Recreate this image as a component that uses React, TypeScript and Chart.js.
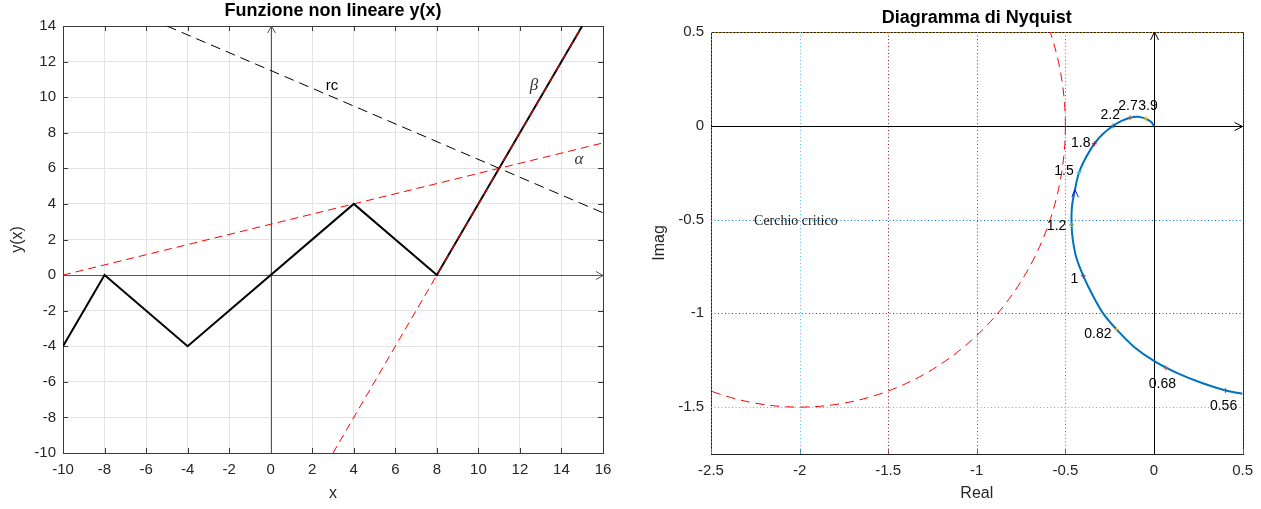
import React, { useEffect, useRef } from 'react';
import { Chart, registerables } from 'chart.js';

Chart.register(...registerables);

const FONT = "'Liberation Sans', Arial, Helvetica, sans-serif";
const SERIF = "'Liberation Serif', 'Times New Roman', serif";

// ---------- Left chart: "Funzione non lineare y(x)" ----------
const fxX = [-10, -8, -4, 4, 8, 15];
const fxY = [-4, 0, -4, 4, 0, 14];
const betaX = [3, 15];
const betaY = [-10, 14];
const alphaX = [-10, 16];
const alphaY = [0, 7.4286];
const rcX = [-5, 16];
const rcY = [14, 3.5];
const leftXTicks = [-10, -8, -6, -4, -2, 0, 2, 4, 6, 8, 10, 12, 14, 16];
const leftYTicks = [-10, -8, -6, -4, -2, 0, 2, 4, 6, 8, 10, 12, 14];
const leftNoteText = ['rc', 'β', 'α'];
const leftNoteX = [2.95, 12.68, 14.84];
const leftNoteY = [10.63, 10.63, 6.48];

// ---------- Right chart: "Diagramma di Nyquist" ----------
const nyqRe = [0.5, 0.404, 0.275, 0.135, 0.004, -0.112, -0.212, -0.287, -0.348, -0.399, -0.438, -0.458, -0.465, -0.463, -0.446, -0.423, -0.382, -0.337, -0.287, -0.23, -0.18, -0.135, -0.09, -0.045, -0.017, 0.0];
const nyqIm = [-1.429, -1.411, -1.373, -1.32, -1.256, -1.179, -1.085, -1.0, -0.9, -0.8, -0.704, -0.608, -0.528, -0.432, -0.341, -0.249, -0.165, -0.096, -0.043, 0.0, 0.027, 0.043, 0.048, 0.037, 0.021, 0.0];
const freqLabels = ['0.56', '0.68', '0.82', '1', '1.2', '1.5', '1.8', '2.2', '2.7', '3.9'];
const freqRe = [0.404, 0.067, -0.212, -0.399, -0.465, -0.423, -0.337, -0.23, -0.135, -0.045];
const freqIm = [-1.411, -1.291, -1.085, -0.8, -0.528, -0.249, -0.096, 0.0, 0.043, 0.037];
const critCenterRe = -2;
const critCenterIm = 0;
const critRadius = 1.5;
const arrowRe = -0.446;
const arrowIm = -0.341;
const critLabel = 'Cerchio critico';
const critLabelRe = -2.257;
const critLabelIm = -0.51;
const rightXTicks = [-2.5, -2, -1.5, -1, -0.5, 0, 0.5];
const rightYTicks = [-1.5, -1, -0.5, 0, 0.5];

// styles (kept separate from data)
const freqLabelOffsets: [number, number][] = [
  [-2, 16], [-3.5, 16], [-18.5, 5], [-9, 3], [-15, 1], [-15, -1], [-13.5, -1], [-3, -11], [-2, -12], [2, -13],
];
const matlabColors = ['#0072bd', '#d95319', '#edb120', '#7e2f8e', '#77ac30', '#4dbeee', '#a2142f'];
const vGridColors = ['#77ac30', '#4dbeee', '#a2142f', '#0072bd', '#d95319', '#edb120', '#7e2f8e'];
const hGridColors = ['#4dbeee', '#a2142f', '#0072bd', '#d95319', '#edb120'];

const crisp = (v: number) => Math.round(v) + 0.5;

const leftDecor = {
  id: 'leftDecor',
  beforeDatasetsDraw(chart: any) {
    const { ctx, chartArea: a, scales } = chart;
    const xs = scales.x, ys = scales.y;
    ctx.save();
    ctx.strokeStyle = '#3a3a3a';
    ctx.lineWidth = 1;
    ctx.strokeRect(crisp(a.left), crisp(a.top), Math.round(a.right - a.left), Math.round(a.bottom - a.top));
    ctx.beginPath();
    leftXTicks.forEach((v) => {
      const px = crisp(xs.getPixelForValue(v));
      ctx.moveTo(px, a.bottom); ctx.lineTo(px, a.bottom - 5);
      ctx.moveTo(px, a.top); ctx.lineTo(px, a.top + 5);
    });
    leftYTicks.forEach((v) => {
      const py = crisp(ys.getPixelForValue(v));
      ctx.moveTo(a.left, py); ctx.lineTo(a.left + 5, py);
      ctx.moveTo(a.right, py); ctx.lineTo(a.right - 5, py);
    });
    ctx.stroke();
    const y0 = crisp(ys.getPixelForValue(0));
    const x0 = crisp(xs.getPixelForValue(0));
    ctx.strokeStyle = '#555555';
    ctx.beginPath();
    ctx.moveTo(a.left, y0); ctx.lineTo(a.right, y0);
    ctx.moveTo(a.right - 7, y0 - 4); ctx.lineTo(a.right, y0); ctx.lineTo(a.right - 7, y0 + 4);
    ctx.moveTo(x0, a.bottom); ctx.lineTo(x0, a.top);
    ctx.moveTo(x0 - 4, a.top + 7); ctx.lineTo(x0, a.top); ctx.lineTo(x0 + 4, a.top + 7);
    ctx.stroke();
    ctx.restore();
  },
  afterDraw(chart: any) {
    const { ctx, chartArea: a, scales } = chart;
    ctx.save();
    ctx.fillStyle = '#000';
    ctx.textAlign = 'center';
    ctx.textBaseline = 'middle';
    ctx.font = `bold 18px ${FONT}`;
    ctx.fillText('Funzione non lineare y(x)', (a.left + a.right) / 2, 11);
    ctx.fillStyle = '#262626';
    ctx.font = `16px ${FONT}`;
    ctx.fillText('x', (a.left + a.right) / 2, 494);
    ctx.save();
    ctx.translate(18, (a.top + a.bottom) / 2);
    ctx.rotate(-Math.PI / 2);
    ctx.fillText('y(x)', 0, 0);
    ctx.restore();
    leftNoteText.forEach((t, i) => {
      const px = scales.x.getPixelForValue(leftNoteX[i]);
      const py = scales.y.getPixelForValue(leftNoteY[i]);
      if (i === 0) {
        ctx.fillStyle = '#000';
        ctx.font = `15px ${FONT}`;
      } else {
        ctx.fillStyle = '#333';
        ctx.font = `italic 17px ${SERIF}`;
      }
      ctx.fillText(t, px, py);
    });
    ctx.restore();
  },
};

const rightDecor = {
  id: 'rightDecor',
  beforeDatasetsDraw(chart: any) {
    const { ctx, chartArea: a, scales } = chart;
    const xs = scales.x, ys = scales.y;
    ctx.save();
    ctx.strokeStyle = '#222';
    ctx.lineWidth = 1;
    ctx.strokeRect(crisp(a.left), crisp(a.top), Math.round(a.right - a.left), Math.round(a.bottom - a.top));
    ctx.beginPath();
    ctx.strokeStyle = '#5a6a80';
    rightXTicks.forEach((v) => {
      const px = crisp(xs.getPixelForValue(v));
      ctx.moveTo(px, a.bottom); ctx.lineTo(px, a.bottom - 5);
    });
    ctx.stroke();
    ctx.setLineDash([1, 2.5]);
    rightXTicks.forEach((v, i) => {
      const px = crisp(xs.getPixelForValue(v));
      ctx.strokeStyle = vGridColors[i];
      ctx.beginPath();
      ctx.moveTo(px, a.top); ctx.lineTo(px, a.bottom);
      ctx.stroke();
    });
    rightYTicks.forEach((v, i) => {
      const py = crisp(ys.getPixelForValue(v));
      ctx.strokeStyle = hGridColors[i];
      ctx.beginPath();
      ctx.moveTo(a.left, py); ctx.lineTo(a.right, py);
      ctx.stroke();
    });
    ctx.save();
    ctx.beginPath();
    ctx.rect(a.left, a.top, a.right - a.left, a.bottom - a.top);
    ctx.clip();
    const cx = xs.getPixelForValue(critCenterRe);
    const cy = ys.getPixelForValue(critCenterIm);
    const rx = Math.abs(xs.getPixelForValue(critCenterRe + critRadius) - cx);
    const ry = Math.abs(ys.getPixelForValue(critCenterIm + critRadius) - cy);
    ctx.setLineDash([9, 6]);
    ctx.strokeStyle = '#ff0000';
    ctx.lineWidth = 1;
    ctx.beginPath();
    ctx.ellipse(cx, cy, rx, ry, 0, 0, Math.PI * 2);
    ctx.stroke();
    ctx.restore();
    ctx.setLineDash([]);
    const y0 = crisp(ys.getPixelForValue(0));
    const x0 = crisp(xs.getPixelForValue(0));
    ctx.strokeStyle = '#000';
    ctx.beginPath();
    ctx.moveTo(a.left, y0); ctx.lineTo(a.right, y0);
    ctx.moveTo(a.right - 8, y0 - 4); ctx.lineTo(a.right, y0); ctx.lineTo(a.right - 8, y0 + 4);
    ctx.moveTo(x0, a.bottom); ctx.lineTo(x0, a.top);
    ctx.moveTo(x0 - 4, a.top + 8); ctx.lineTo(x0, a.top); ctx.lineTo(x0 + 4, a.top + 8);
    ctx.stroke();
    ctx.restore();
  },
  afterDraw(chart: any) {
    const { ctx, chartArea: a, scales } = chart;
    const xs = scales.x, ys = scales.y;
    ctx.save();
    const ax = xs.getPixelForValue(arrowRe);
    const ay = ys.getPixelForValue(arrowIm);
    ctx.strokeStyle = '#1010ff';
    ctx.lineWidth = 1;
    ctx.beginPath();
    ctx.moveTo(ax - 3, ay + 7);
    ctx.lineTo(ax, ay);
    ctx.lineTo(ax + 3.5, ay + 7.5);
    ctx.stroke();
    ctx.fillStyle = '#000';
    ctx.font = `14px ${FONT}`;
    ctx.textAlign = 'center';
    ctx.textBaseline = 'middle';
    freqLabels.forEach((t, i) => {
      const px = xs.getPixelForValue(freqRe[i]) + freqLabelOffsets[i][0];
      const py = ys.getPixelForValue(freqIm[i]) + freqLabelOffsets[i][1];
      ctx.fillText(t, px, py);
    });
    ctx.textAlign = 'left';
    ctx.fillStyle = '#222';
    ctx.font = `14px ${SERIF}`;
    ctx.fillText(critLabel, xs.getPixelForValue(critLabelRe), ys.getPixelForValue(critLabelIm));
    ctx.textAlign = 'center';
    ctx.fillStyle = '#000';
    ctx.font = `bold 18px ${FONT}`;
    ctx.fillText('Diagramma di Nyquist', (a.left + a.right) / 2, 18);
    ctx.fillStyle = '#262626';
    ctx.font = `16px ${FONT}`;
    ctx.fillText('Real', (a.left + a.right) / 2, 494);
    ctx.save();
    ctx.translate(30, (a.top + a.bottom) / 2);
    ctx.rotate(-Math.PI / 2);
    ctx.fillText('Imag', 0, 0);
    ctx.restore();
    ctx.restore();
  },
};

function tickOpts(pad: number) {
  return {
    color: '#262626',
    font: { family: FONT, size: 15 },
    padding: pad,
    maxRotation: 0,
    autoSkip: false,
    callback: (v: any) => String(v),
  };
}

function leftConfig(): any {
  const pts = (xs: number[], ys: number[]) => xs.map((x, i) => ({ x, y: ys[i] }));
  return {
    type: 'scatter',
    data: {
      datasets: [
        { data: pts(rcX, rcY), showLine: true, borderColor: '#000', borderWidth: 1, borderDash: [10, 6], pointRadius: 0, order: 3 },
        { data: pts(alphaX, alphaY), showLine: true, borderColor: '#ff0000', borderWidth: 1, borderDash: [8, 5], pointRadius: 0, order: 2 },
        { data: pts(fxX, fxY), showLine: true, borderColor: '#000', borderWidth: 2, pointRadius: 0, order: 1 },
        { data: pts(betaX, betaY), showLine: true, borderColor: '#ff0000', borderWidth: 1, borderDash: [8, 5], pointRadius: 0, order: 0 },
      ],
    },
    options: {
      responsive: false,
      animation: false,
      devicePixelRatio: 1,
      layout: { padding: { top: 26, right: 27, left: 0, bottom: 0 } },
      plugins: { legend: { display: false }, tooltip: { enabled: false }, title: { display: false } },
      scales: {
        x: {
          type: 'linear', min: -10, max: 16,
          afterBuildTicks: (s: any) => { s.ticks = leftXTicks.map((v) => ({ value: v })); },
          afterFit: (s: any) => { s.height = 56; },
          ticks: tickOpts(8),
          grid: { color: '#e3e3e3', drawTicks: false },
          border: { display: false },
        },
        y: {
          type: 'linear', min: -10, max: 14,
          afterBuildTicks: (s: any) => { s.ticks = leftYTicks.map((v) => ({ value: v })); },
          afterFit: (s: any) => { s.width = 63; },
          ticks: tickOpts(7),
          grid: { color: '#e3e3e3', drawTicks: false },
          border: { display: false },
        },
      },
    },
    plugins: [leftDecor],
  };
}

function rightConfig(): any {
  return {
    type: 'scatter',
    data: {
      datasets: [
        {
          data: freqRe.map((x, i) => ({ x, y: freqIm[i] })),
          pointStyle: 'cross', pointRadius: 2.5, borderWidth: 1,
          borderColor: freqRe.map((_, i) => matlabColors[i % matlabColors.length]),
          backgroundColor: 'transparent', order: 0,
        },
        {
          data: nyqRe.map((x, i) => ({ x, y: nyqIm[i] })),
          showLine: true, borderColor: '#0072bd', borderWidth: 2, pointRadius: 0, tension: 0.35, order: 1,
        },
      ],
    },
    options: {
      responsive: false,
      animation: false,
      devicePixelRatio: 1,
      layout: { padding: { top: 32, right: 16, left: 0, bottom: 0 } },
      plugins: { legend: { display: false }, tooltip: { enabled: false }, title: { display: false } },
      scales: {
        x: {
          type: 'linear', min: -2.5, max: 0.5,
          afterBuildTicks: (s: any) => { s.ticks = rightXTicks.map((v) => ({ value: v })); },
          afterFit: (s: any) => { s.height = 55; },
          ticks: tickOpts(8),
          grid: { display: false, drawTicks: false },
          border: { display: false },
        },
        y: {
          type: 'linear', min: -1.75, max: 0.5,
          afterBuildTicks: (s: any) => { s.ticks = rightYTicks.map((v) => ({ value: v })); },
          afterFit: (s: any) => { s.width = 81; },
          ticks: tickOpts(7),
          grid: { display: false, drawTicks: false },
          border: { display: false },
        },
      },
    },
    plugins: [rightDecor],
  };
}

export default function App() {
  const leftRef = useRef<HTMLCanvasElement>(null);
  const rightRef = useRef<HTMLCanvasElement>(null);
  useEffect(() => {
    const c1 = new Chart(leftRef.current as HTMLCanvasElement, leftConfig());
    const c2 = new Chart(rightRef.current as HTMLCanvasElement, rightConfig());
    return () => {
      c1.destroy();
      c2.destroy();
    };
  }, []);
  return (
    <div style={{ position: 'absolute', left: 0, top: 0, width: 1261, height: 509, background: '#fff' }}>
      <div style={{ position: 'absolute', left: 0, top: 0, width: 630, height: 509 }}>
        <canvas ref={leftRef} width={630} height={509} style={{ display: 'block' }} />
      </div>
      <div style={{ position: 'absolute', left: 630, top: 0, width: 631, height: 509 }}>
        <canvas ref={rightRef} width={631} height={509} style={{ display: 'block' }} />
      </div>
    </div>
  );
}
